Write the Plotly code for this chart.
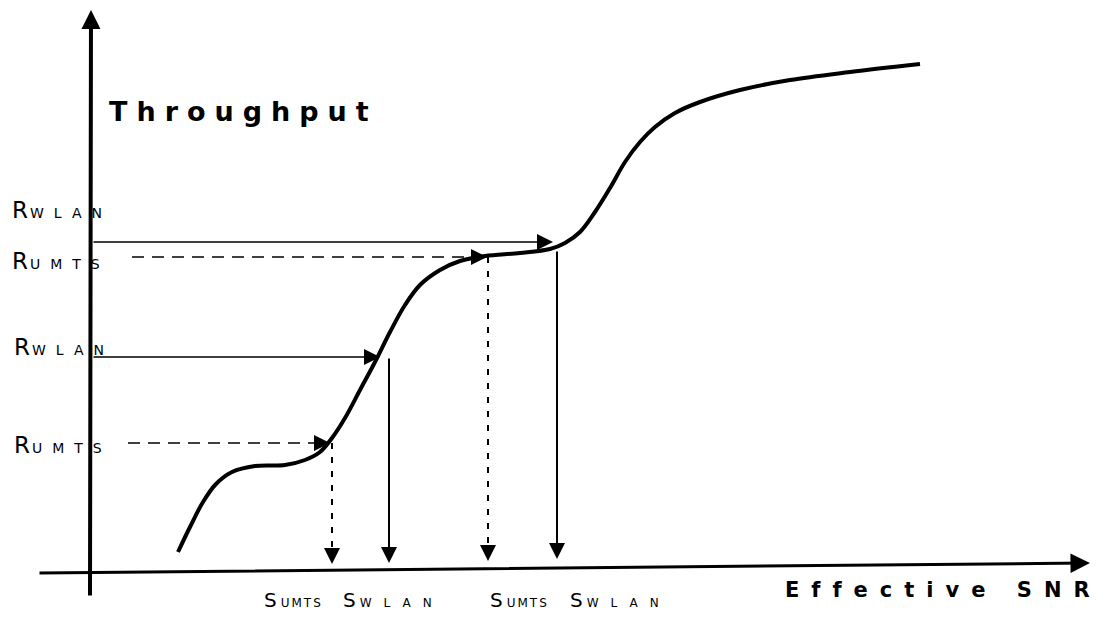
import plotly.graph_objects as go

# ---------------- data (schematic coordinates: x to the right, y downward as on the page) -------------
curve_x = [178, 190, 203, 216, 232, 255, 285, 305, 320, 332, 345, 360, 375, 390, 405, 420, 440, 460,
           485, 520, 550, 565, 580, 595, 610, 625, 640, 655, 675, 700, 740, 790, 850, 920]
curve_y = [552, 527, 502, 484, 472, 466, 465, 460, 452, 438, 418, 390, 362, 332, 305, 285, 270, 261,
           256, 253, 249, 243, 232, 212, 188, 162, 142, 127, 113, 102, 90, 80, 72, 64]

# rate arrows (horizontal): R_WLAN high, R_UMTS high, R_WLAN low, R_UMTS low
rate_y = [242, 257, 357, 443]
rate_start_x = [92, 132, 92, 128]
rate_end_x = [553, 487, 380, 330]
rate_dashed = [False, True, False, True]
rate_main = ["R", "R", "R", "R"]
rate_sub = ["WLAN", "UMTS", "WLAN", "UMTS"]
rate_label_x = [10, 10, 12, 12]
rate_label_y = [210, 261, 347, 445]

# SNR arrows (vertical): S_UMTS low, S_WLAN low, S_UMTS high, S_WLAN high
snr_x = [332, 389, 488, 557]
snr_top_y = [443, 357, 257, 250]
snr_tip_y = [564, 563, 561, 559]
snr_dashed = [True, False, True, False]
snr_main = ["S", "S", "S", "S"]
snr_sub = ["UMTS", "WLAN", "UMTS", "WLAN"]
snr_label_x = [262, 341, 488, 568]
snr_label_y = [600, 600, 600, 600]

# axes (start point -> arrow tip)
xaxis_line = dict(x0=38, y0=573, x1=1090, y1=563)
yaxis_line = dict(x0=90, y0=597, x1=91, y1=10)

y_title = "Throughput"
x_title = "Effective SNR"

# ---------------- figure ----------------
fig = go.Figure()

fig.add_trace(go.Scatter(x=curve_x, y=curve_y, mode="lines",
                         line=dict(color="black", width=4, shape="spline", smoothing=1.0),
                         hoverinfo="skip", showlegend=False))

ann = []
HEAD = 16

def arrow(x0, y0, x1, y1, width, size):
    return dict(x=x1, y=y1, ax=x0, ay=y0, xref="x", yref="y", axref="x", ayref="y",
                text="", showarrow=True, arrowhead=2, arrowsize=size, arrowwidth=width,
                arrowcolor="black", standoff=0, startstandoff=0)

# axes
ann.append(arrow(xaxis_line["x0"], xaxis_line["y0"], xaxis_line["x1"], xaxis_line["y1"], 3, 1.3))
ann.append(arrow(yaxis_line["x0"], yaxis_line["y0"], yaxis_line["x1"], yaxis_line["y1"], 4, 0.95))

# horizontal rate arrows
for y, xs, xe, d in zip(rate_y, rate_start_x, rate_end_x, rate_dashed):
    if d:
        fig.add_trace(go.Scatter(x=[xs, xe - 10], y=[y, y], mode="lines",
                                 line=dict(color="black", width=1.6, dash="12px,8px"),
                                 hoverinfo="skip", showlegend=False))
        ann.append(arrow(xe - HEAD, y, xe, y, 2, 1.6))
    else:
        ann.append(arrow(xs, y, xe, y, 1.6, 2.0))

# vertical SNR arrows
for x, yt, yb, d in zip(snr_x, snr_top_y, snr_tip_y, snr_dashed):
    if d:
        fig.add_trace(go.Scatter(x=[x, x], y=[yt, yb - 10], mode="lines",
                                 line=dict(color="black", width=2, dash="6px,8px"),
                                 hoverinfo="skip", showlegend=False))
        ann.append(arrow(x, yb - HEAD, x, yb, 2, 1.6))
    else:
        ann.append(arrow(x, yt, x, yb, 2, 1.6))

LBL_FONT = dict(family="DejaVu Sans, Liberation Sans, Arial, sans-serif", color="black")
TITLE_FONT = dict(family="DejaVu Sans, Liberation Sans, Arial, sans-serif", color="black")

for m, s, x, y in zip(rate_main, rate_sub, rate_label_x, rate_label_y):
    ann.append(dict(x=x, y=y, xref="x", yref="y", xanchor="left", yanchor="middle", showarrow=False,
                    text=f'<span style="letter-spacing:2px">{m}</span>'
                         f'<span style="font-size:14px;letter-spacing:10px">{s}</span>',
                    font=dict(size=23, **LBL_FONT)))

for m, s, x, y in zip(snr_main, snr_sub, snr_label_x, snr_label_y):
    ls = 2 if s == "UMTS" else 12
    ann.append(dict(x=x, y=y, xref="x", yref="y", xanchor="left", yanchor="middle", showarrow=False,
                    text=f'<span style="letter-spacing:4px">{m}</span>'
                         f'<span style="font-size:12px;letter-spacing:{ls}px">{s}</span>',
                    font=dict(size=20, **LBL_FONT)))

ann.append(dict(x=107, y=111, xref="x", yref="y", xanchor="left", yanchor="middle", showarrow=False,
                text=f'<span style="letter-spacing:9px">{y_title}</span>',
                font=dict(size=27, weight="bold", **TITLE_FONT)))
ann.append(dict(x=783, y=590, xref="x", yref="y", xanchor="left", yanchor="middle", showarrow=False,
                text=f'<span style="letter-spacing:12px">{x_title}</span>',
                font=dict(size=21, weight="bold", **TITLE_FONT)))

# the page places the plot 8px from the top-left corner; shift the ranges so that
# schematic coordinates line up with the page
OFF = 8
fig.update_layout(
    width=1112, height=621,
    margin=dict(l=0, r=0, t=0, b=0),
    paper_bgcolor="white", plot_bgcolor="white",
    xaxis=dict(range=[OFF, 1112 + OFF], visible=False, fixedrange=True),
    yaxis=dict(range=[621 + OFF, OFF], visible=False, fixedrange=True),
    annotations=ann,
    showlegend=False,
)

fig.write_html("out.html")
